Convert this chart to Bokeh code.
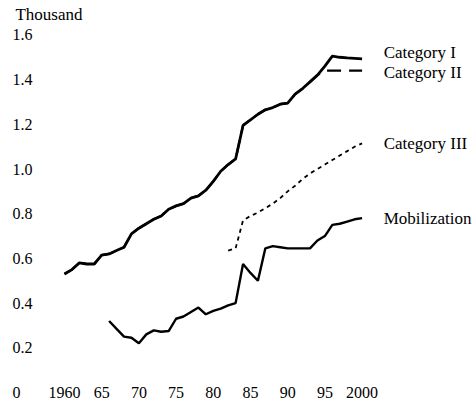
from bokeh.plotting import figure
from bokeh.models import Range1d, ColumnDataSource
from bokeh.core.properties import value
from bokeh.embed import file_html
from bokeh.resources import INLINE

# ---------------- data ----------------
years_cat1 = list(range(1960, 2001))
category_1 = [0.53, 0.55, 0.58, 0.575, 0.575, 0.615, 0.62, 0.635, 0.65, 0.71,
              0.735, 0.755, 0.775, 0.79, 0.82, 0.835, 0.845, 0.87, 0.88, 0.905,
              0.945, 0.99, 1.02, 1.045, 1.195, 1.22, 1.245, 1.265, 1.275, 1.29,
              1.295, 1.335, 1.36, 1.39, 1.42, 1.46, 1.505, 1.50, 1.497, 1.495,
              1.493]

years_cat2 = list(range(1960, 2001))
category_2 = [0.53, 0.55, 0.58, 0.575, 0.575, 0.615, 0.62, 0.635, 0.65, 0.71,
              0.735, 0.755, 0.775, 0.79, 0.82, 0.835, 0.845, 0.87, 0.88, 0.905,
              0.945, 0.99, 1.02, 1.045, 1.195, 1.22, 1.245, 1.265, 1.275, 1.29,
              1.295, 1.335, 1.36, 1.39, 1.42, 1.44, 1.44, 1.44, 1.44, 1.44,
              1.44]

years_cat3 = list(range(1982, 2001))
category_3 = [0.635, 0.645, 0.77, 0.79, 0.805, 0.825, 0.845, 0.87, 0.90, 0.925,
              0.955, 0.98, 1.0, 1.02, 1.04, 1.06, 1.08, 1.10, 1.115]

years_mob = list(range(1966, 2001))
mobilization = [0.32, 0.285, 0.25, 0.245, 0.22, 0.26, 0.278, 0.272, 0.275, 0.33,
                0.34, 0.36, 0.38, 0.35, 0.365, 0.375, 0.39, 0.40, 0.575, 0.535,
                0.50, 0.645, 0.655, 0.65, 0.645, 0.645, 0.645, 0.645, 0.68, 0.70,
                0.75, 0.755, 0.765, 0.775, 0.78]

series_names = ["Category I", "Category II", "Category III", "Mobilization"]

x_tick_values = [1960, 1965, 1970, 1975, 1980, 1985, 1990, 1995, 2000]
x_tick_labels = ["1960", "65", "70", "75", "80", "85", "90", "95", "2000"]
y_tick_values = [0, 0.2, 0.4, 0.6, 0.8, 1.0, 1.2, 1.4, 1.6]
y_tick_labels = ["0", "0.2", "0.4", "0.6", "0.8", "1.0", "1.2", "1.4", "1.6"]
unit_label = "Thousand"

# ---------------- figure ----------------
FONT = value("Liberation Serif")

p = figure(width=476, height=408, output_backend="svg", toolbar_location=None,
           x_range=Range1d(1951.40, 2015.38), y_range=Range1d(-0.0716, 1.754),
           min_border=0)
p.xaxis.visible = False
p.yaxis.visible = False
p.grid.visible = False
p.outline_line_color = None
p.background_fill_color = "white"
p.border_fill_color = "white"

# series lines
p.line(years_cat2, category_2, line_color="black", line_width=2.2, line_dash="14 8")
p.line(years_cat1, category_1, line_color="black", line_width=2.8)
p.line(years_cat3, category_3, line_color="black", line_width=1.8, line_dash="4 4")
p.line(years_mob, mobilization, line_color="black", line_width=2.4)

# series labels at right, next to the line ends
last_x = [years_cat1[-1], years_cat2[-1], years_cat3[-1], years_mob[-1]]
last_y = [category_1[-1], category_2[-1], category_3[-1], mobilization[-1]]
label_dy = [0.03, -0.01, 0.0, 0.0]
lab_src = ColumnDataSource(dict(
    x=[v + 2.9 for v in last_x],
    y=[a + b for a, b in zip(last_y, label_dy)],
    text=series_names))
p.text(x="x", y="y", text="text", source=lab_src, text_font=FONT,
       text_font_size="17px", text_color="black", text_align="left",
       text_baseline="middle")

# x tick labels on the zero line
xs = ColumnDataSource(dict(x=x_tick_values, y=[0] * len(x_tick_values),
                           text=x_tick_labels))
p.text(x="x", y="y", text="text", source=xs, text_font=FONT,
       text_font_size="16px", text_color="black", text_align="center",
       text_baseline="middle")

# y tick labels, left aligned
ys = ColumnDataSource(dict(x=[1953.0] * len(y_tick_values), y=y_tick_values,
                           text=y_tick_labels))
p.text(x="x", y="y", text="text", source=ys, text_font=FONT,
       text_font_size="16px", text_color="black", text_align="left",
       text_baseline="middle")

# unit label
p.text(x=[1953.4], y=[1.69], text=[unit_label], text_font=FONT,
       text_font_size="17px", text_color="black", text_align="left",
       text_baseline="middle")

open("out.html", "w").write(file_html(p, INLINE))
